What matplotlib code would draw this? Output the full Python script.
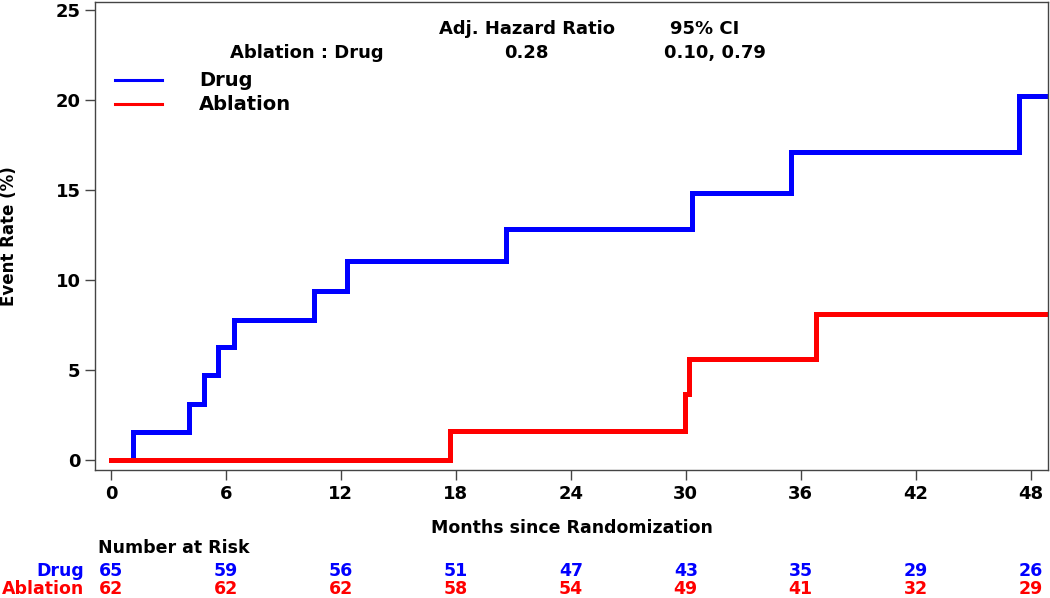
import matplotlib.pyplot as plt

# step curves (months, event rate %)
drug_t = [0, 1.15, 4.1, 4.85, 5.6, 6.4, 10.6, 12.3, 20.6, 30.3, 35.5, 47.4, 48.9]
drug_y = [0, 1.54, 3.1, 4.7, 6.25, 7.8, 9.4, 11.05, 12.85, 14.85, 17.1, 20.2, 20.2]
abl_t = [0, 17.7, 29.95, 30.15, 36.8, 48.9]
abl_y = [0, 1.6, 3.65, 5.6, 8.1, 8.1]

risk_times = [0, 6, 12, 18, 24, 30, 36, 42, 48]
risk_drug = [65, 59, 56, 51, 47, 43, 35, 29, 26]
risk_abl = [62, 62, 62, 58, 54, 49, 41, 32, 29]

fig = plt.figure(figsize=(10.5, 5.98), dpi=100)
ax = fig.add_axes([0.0905, 0.214, 0.9075, 0.7827])

ax.step(drug_t, drug_y, where='post', color='#0000ff', lw=3.6, solid_joinstyle='miter')
ax.step(abl_t, abl_y, where='post', color='#ff0000', lw=3.6, solid_joinstyle='miter')

ax.set_xlim(-0.83, 48.9)
ax.set_ylim(-0.56, 25.44)
ax.set_xticks(risk_times)
ax.set_yticks([0, 5, 10, 15, 20, 25])
ax.tick_params(direction='out', length=7, width=1, color='#444444', labelsize=13)
for lab in ax.get_xticklabels() + ax.get_yticklabels():
    lab.set_fontweight('bold')
for s in ax.spines.values():
    s.set_color('#444444')
    s.set_linewidth(1)

fig.text(9 / 1050, 1 - 236 / 598, 'Event Rate (%)', fontsize=12, fontweight='bold',
         rotation=90, ha='center', va='center')
ax.set_xlabel('Months since Randomization', fontsize=12.5, fontweight='bold', labelpad=12)

# hazard ratio block
ax.text(21.7, 23.95, 'Adj. Hazard Ratio', fontsize=13, fontweight='bold', ha='center', va='center')
ax.text(31.0, 23.95, '95% CI', fontsize=13, fontweight='bold', ha='center', va='center')
ax.text(10.2, 22.6, 'Ablation : Drug', fontsize=13, fontweight='bold', ha='center', va='center')
ax.text(21.7, 22.6, '0.28', fontsize=13, fontweight='bold', ha='center', va='center')
ax.text(31.5, 22.6, '0.10, 0.79', fontsize=13, fontweight='bold', ha='center', va='center')

# legend
ax.plot([0.2, 2.65], [21.1, 21.1], color='#0000ff', lw=2.2)
ax.plot([0.2, 2.65], [19.75, 19.75], color='#ff0000', lw=2.2)
ax.text(4.6, 21.1, 'Drug', fontsize=14, fontweight='bold', ha='left', va='center')
ax.text(4.6, 19.75, 'Ablation', fontsize=14, fontweight='bold', ha='left', va='center')

# number at risk table
xform = ax.get_xaxis_transform()
fig.text(98 / 1050, 1 - 548 / 598, 'Number at Risk', fontsize=12.5, fontweight='bold',
         ha='left', va='center')
fig.text(84 / 1050, 1 - 571 / 598, 'Drug', fontsize=12.5, fontweight='bold', color='#0000ff',
         ha='right', va='center')
fig.text(84 / 1050, 1 - 589 / 598, 'Ablation', fontsize=12.5, fontweight='bold', color='#ff0000',
         ha='right', va='center')
y_drug = (1 - 571 / 598 - 0.214) / 0.7827
y_abl = (1 - 589 / 598 - 0.214) / 0.7827
for t, d, a in zip(risk_times, risk_drug, risk_abl):
    ax.text(t, y_drug, str(d), transform=xform, fontsize=12.5, fontweight='bold',
            color='#0000ff', ha='center', va='center', clip_on=False)
    ax.text(t, y_abl, str(a), transform=xform, fontsize=12.5, fontweight='bold',
            color='#ff0000', ha='center', va='center', clip_on=False)

fig.savefig('out.png', dpi=100)
